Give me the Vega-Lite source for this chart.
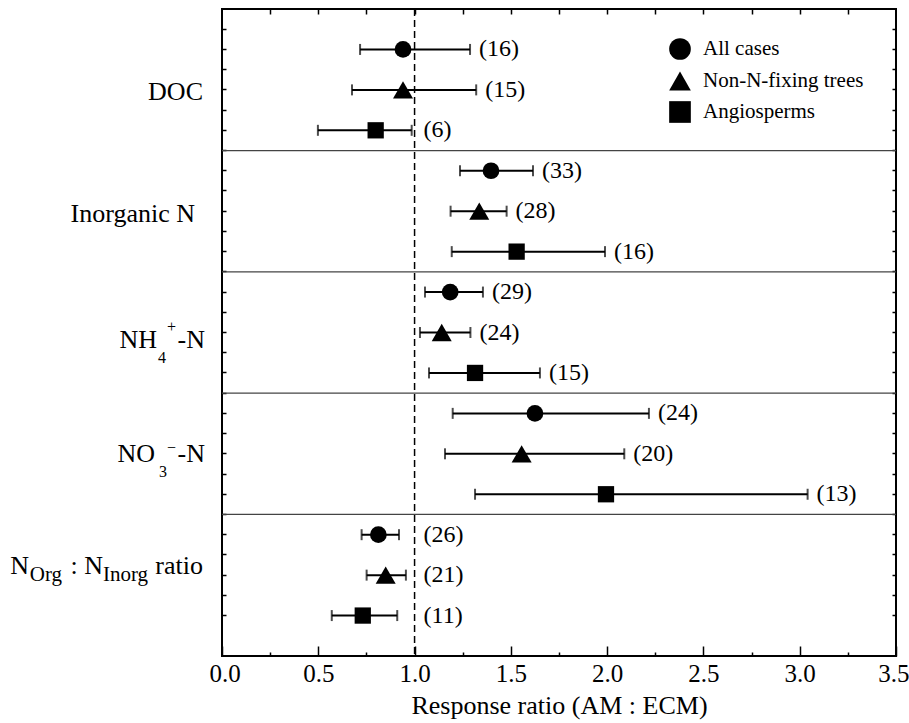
{
  "$schema": "https://vega.github.io/schema/vega-lite/v6.json",
  "width": 674,
  "height": 647,
  "autosize": {"type": "none"},
  "padding": {"left": 222, "top": 9, "right": 13, "bottom": 67},
  "background": "white",
  "config": {
    "view": {"stroke": "black", "strokeWidth": 2},
    "font": "Liberation Serif",
    "text": {"font": "Liberation Serif", "color": "black"}
  },
  "data": {"values": [
    {"group": "DOC", "series": "All cases", "mean": 0.94, "lower": 0.717, "upper": 1.288, "n": 16},
    {"group": "DOC", "series": "Non-N-fixing trees", "mean": 0.94, "lower": 0.675, "upper": 1.32, "n": 15},
    {"group": "DOC", "series": "Angiosperms", "mean": 0.798, "lower": 0.498, "upper": 0.985, "n": 6},
    {"group": "Inorganic N", "series": "All cases", "mean": 1.397, "lower": 1.236, "upper": 1.615, "n": 33},
    {"group": "Inorganic N", "series": "Non-N-fixing trees", "mean": 1.336, "lower": 1.187, "upper": 1.478, "n": 28},
    {"group": "Inorganic N", "series": "Angiosperms", "mean": 1.53, "lower": 1.193, "upper": 1.989, "n": 16},
    {"group": "NH4+-N", "series": "All cases", "mean": 1.185, "lower": 1.054, "upper": 1.355, "n": 29},
    {"group": "NH4+-N", "series": "Non-N-fixing trees", "mean": 1.141, "lower": 1.028, "upper": 1.29, "n": 24},
    {"group": "NH4+-N", "series": "Angiosperms", "mean": 1.314, "lower": 1.075, "upper": 1.651, "n": 15},
    {"group": "NO3--N", "series": "All cases", "mean": 1.625, "lower": 1.198, "upper": 2.217, "n": 24},
    {"group": "NO3--N", "series": "Non-N-fixing trees", "mean": 1.556, "lower": 1.158, "upper": 2.089, "n": 20},
    {"group": "NO3--N", "series": "Angiosperms", "mean": 1.994, "lower": 1.314, "upper": 3.041, "n": 13},
    {"group": "NOrg:NInorg", "series": "All cases", "mean": 0.812, "lower": 0.725, "upper": 0.919, "n": 26},
    {"group": "NOrg:NInorg", "series": "Non-N-fixing trees", "mean": 0.85, "lower": 0.751, "upper": 0.955, "n": 21},
    {"group": "NOrg:NInorg", "series": "Angiosperms", "mean": 0.731, "lower": 0.57, "upper": 0.91, "n": 11}
  ]},
  "transform": [
    {"calculate": "datum.group + '|' + datum.series", "as": "key"},
    {"calculate": "max(datum.upper, 1)", "as": "anchor"},
    {"calculate": "'(' + datum.n + ')'", "as": "label"}
  ],
  "resolve": {"axis": {"x": "independent", "y": "independent"}},
  "layer": [
    {
      "transform": [{"filter": "datum.series == 'All cases' && datum.group != 'DOC'"}],
      "mark": {"type": "rule", "color": "#444", "strokeWidth": 1.2},
      "encoding": {
        "y": {
          "field": "key", "type": "nominal", "bandPosition": 0,
          "scale": {"type": "band", "paddingInner": 0, "paddingOuter": 0.5, "domain": [
            "DOC|All cases", "DOC|Non-N-fixing trees", "DOC|Angiosperms",
            "Inorganic N|All cases", "Inorganic N|Non-N-fixing trees", "Inorganic N|Angiosperms",
            "NH4+-N|All cases", "NH4+-N|Non-N-fixing trees", "NH4+-N|Angiosperms",
            "NO3--N|All cases", "NO3--N|Non-N-fixing trees", "NO3--N|Angiosperms",
            "NOrg:NInorg|All cases", "NOrg:NInorg|Non-N-fixing trees", "NOrg:NInorg|Angiosperms"]},
          "axis": {"orient": "left", "bandPosition": 0, "labels": false, "tickSize": -4, "tickWidth": 1.5, "tickColor": "black", "domain": false, "grid": false, "title": null}
        }
      }
    },
    {
      "data": {"values": [{"ref": 1}]},
      "mark": {"type": "rule", "color": "black", "strokeWidth": 1.5, "strokeDash": [7, 4]},
      "encoding": {
        "x": {"field": "ref", "type": "quantitative", "scale": {"domain": [0, 3.5], "nice": false, "zero": false}, "axis": null}
      }
    },
    {
      "mark": {"type": "rule", "color": "black", "strokeWidth": 2},
      "encoding": {
        "x": {
          "field": "lower", "type": "quantitative",
          "scale": {"domain": [0, 3.5], "nice": false, "zero": false},
          "axis": {"orient": "bottom", "values": [0, 0.5, 1, 1.5, 2, 2.5, 3, 3.5], "format": ".1f", "labelFontSize": 25, "labelColor": "black", "labelFont": "Liberation Serif", "labelFlush": true, "labelFlushOffset": 13, "labelOverlap": false, "tickSize": -10, "tickWidth": 1.5, "tickColor": "black", "labelPadding": 15, "domain": false, "grid": false, "title": "Response ratio (AM : ECM)", "titleFont": "Liberation Serif", "titleFontSize": 26, "titleFontWeight": "normal", "titleColor": "black", "titlePadding": 6}
        },
        "x2": {"field": "upper"},
        "y": {"field": "key", "type": "nominal", "axis": {"orient": "left", "labels": false, "tickSize": -4, "tickWidth": 1.5, "tickColor": "black", "domain": false, "grid": false, "title": null}}
      }
    },
    {
      "mark": {"type": "tick", "orient": "vertical", "color": "black", "size": 11, "thickness": 2},
      "encoding": {
        "x": {"field": "lower", "type": "quantitative", "axis": {"orient": "bottom", "values": [0.25, 0.75, 1.25, 1.75, 2.25, 2.75, 3.25], "labels": false, "tickSize": -4, "tickWidth": 1.5, "tickColor": "black", "domain": false, "grid": false, "title": null}},
        "y": {"field": "key", "type": "nominal", "axis": {"orient": "right", "bandPosition": 0, "labels": false, "tickSize": -4, "tickWidth": 1.5, "tickColor": "black", "domain": false, "grid": false, "title": null}}
      }
    },
    {
      "mark": {"type": "tick", "orient": "vertical", "color": "black", "size": 11, "thickness": 2},
      "encoding": {
        "x": {"field": "upper", "type": "quantitative", "axis": {"orient": "top", "values": [0.25, 0.5, 0.75, 1, 1.25, 1.5, 1.75, 2, 2.25, 2.5, 2.75, 3, 3.25], "labels": false, "tickSize": -5, "tickWidth": 1.5, "tickColor": "black", "domain": false, "grid": false, "title": null}},
        "y": {"field": "key", "type": "nominal", "axis": {"orient": "right", "labels": false, "tickSize": -4, "tickWidth": 1.5, "tickColor": "black", "domain": false, "grid": false, "title": null}}
      }
    },
    {
      "mark": {"type": "point", "filled": true, "color": "black", "opacity": 1, "strokeWidth": 0},
      "encoding": {
        "x": {"field": "mean", "type": "quantitative", "axis": null},
        "y": {"field": "key", "type": "nominal", "axis": null},
        "shape": {
          "field": "series", "type": "nominal",
          "scale": {"domain": ["All cases", "Non-N-fixing trees", "Angiosperms"], "range": ["circle", "triangle-up", "square"]},
          "legend": {
            "title": null, "orient": "none", "legendX": 447, "legendY": 29,
            "labelFont": "Liberation Serif", "labelFontSize": 21, "labelColor": "black", "labelLimit": 400,
            "rowPadding": 10, "labelOffset": 12, "padding": 0, "symbolSize": 470, "symbolStrokeWidth": 0, "symbolFillColor": "black",
            "encode": {"symbols": {"update": {"size": {"signal": "datum.value === 'Non-N-fixing trees' ? 470 : datum.value === 'All cases' ? 225 : 200"}}}}
          }
        },
        "size": {
          "condition": [
            {"test": "datum.series === 'Non-N-fixing trees'", "value": 400},
            {"test": "datum.series === 'Angiosperms'", "value": 265}
          ],
          "value": 280
        }
      }
    },
    {
      "mark": {"type": "text", "align": "left", "baseline": "middle", "dx": 9, "fontSize": 24},
      "encoding": {
        "x": {"field": "anchor", "type": "quantitative", "axis": null},
        "y": {"field": "key", "type": "nominal", "axis": null},
        "text": {"field": "label"}
      }
    },
    {
      "data": {"values": [{"t": "DOC"}]},
      "mark": {"type": "text", "align": "right", "baseline": "alphabetic", "dx": -19, "dy": 10, "fontSize": 26},
      "encoding": {"x": {"datum": 0, "type": "quantitative", "axis": null}, "y": {"datum": "DOC|Non-N-fixing trees", "type": "nominal", "axis": null}, "text": {"field": "t"}}
    },
    {
      "data": {"values": [{"t": "Inorganic N"}]},
      "mark": {"type": "text", "align": "right", "baseline": "alphabetic", "dx": -27, "dy": 11, "fontSize": 26},
      "encoding": {"x": {"datum": 0, "type": "quantitative", "axis": null}, "y": {"datum": "Inorganic N|Non-N-fixing trees", "type": "nominal", "axis": null}, "text": {"field": "t"}}
    },
    {
      "data": {"values": [{"t": "NH"}]},
      "mark": {"type": "text", "align": "right", "baseline": "alphabetic", "dx": -65, "dy": 15, "fontSize": 26},
      "encoding": {"x": {"datum": 0, "type": "quantitative", "axis": null}, "y": {"datum": "NH4+-N|Non-N-fixing trees", "type": "nominal", "axis": null}, "text": {"field": "t"}}
    },
    {
      "data": {"values": [{"t": "4"}]},
      "mark": {"type": "text", "align": "left", "baseline": "alphabetic", "dx": -64, "dy": 30, "fontSize": 16},
      "encoding": {"x": {"datum": 0, "type": "quantitative", "axis": null}, "y": {"datum": "NH4+-N|Non-N-fixing trees", "type": "nominal", "axis": null}, "text": {"field": "t"}}
    },
    {
      "data": {"values": [{"t": "+"}]},
      "mark": {"type": "text", "align": "left", "baseline": "alphabetic", "dx": -55, "dy": -1, "fontSize": 16},
      "encoding": {"x": {"datum": 0, "type": "quantitative", "axis": null}, "y": {"datum": "NH4+-N|Non-N-fixing trees", "type": "nominal", "axis": null}, "text": {"field": "t"}}
    },
    {
      "data": {"values": [{"t": "-N"}]},
      "mark": {"type": "text", "align": "right", "baseline": "alphabetic", "dx": -17, "dy": 15, "fontSize": 26},
      "encoding": {"x": {"datum": 0, "type": "quantitative", "axis": null}, "y": {"datum": "NH4+-N|Non-N-fixing trees", "type": "nominal", "axis": null}, "text": {"field": "t"}}
    },
    {
      "data": {"values": [{"t": "NO"}]},
      "mark": {"type": "text", "align": "right", "baseline": "alphabetic", "dx": -67, "dy": 8, "fontSize": 26},
      "encoding": {"x": {"datum": 0, "type": "quantitative", "axis": null}, "y": {"datum": "NO3--N|Non-N-fixing trees", "type": "nominal", "axis": null}, "text": {"field": "t"}}
    },
    {
      "data": {"values": [{"t": "3"}]},
      "mark": {"type": "text", "align": "left", "baseline": "alphabetic", "dx": -63, "dy": 23, "fontSize": 16},
      "encoding": {"x": {"datum": 0, "type": "quantitative", "axis": null}, "y": {"datum": "NO3--N|Non-N-fixing trees", "type": "nominal", "axis": null}, "text": {"field": "t"}}
    },
    {
      "data": {"values": [{"t": "−"}]},
      "mark": {"type": "text", "align": "left", "baseline": "alphabetic", "dx": -55, "dy": -1, "fontSize": 16},
      "encoding": {"x": {"datum": 0, "type": "quantitative", "axis": null}, "y": {"datum": "NO3--N|Non-N-fixing trees", "type": "nominal", "axis": null}, "text": {"field": "t"}}
    },
    {
      "data": {"values": [{"t": "-N"}]},
      "mark": {"type": "text", "align": "right", "baseline": "alphabetic", "dx": -17, "dy": 8, "fontSize": 26},
      "encoding": {"x": {"datum": 0, "type": "quantitative", "axis": null}, "y": {"datum": "NO3--N|Non-N-fixing trees", "type": "nominal", "axis": null}, "text": {"field": "t"}}
    },
    {
      "data": {"values": [{"t": "N"}]},
      "mark": {"type": "text", "align": "right", "baseline": "alphabetic", "dx": -193, "dy": -1, "fontSize": 26},
      "encoding": {"x": {"datum": 0, "type": "quantitative", "axis": null}, "y": {"datum": "NOrg:NInorg|Non-N-fixing trees", "type": "nominal", "axis": null}, "text": {"field": "t"}}
    },
    {
      "data": {"values": [{"t": "Org"}]},
      "mark": {"type": "text", "align": "right", "baseline": "alphabetic", "dx": -160, "dy": 6, "fontSize": 21},
      "encoding": {"x": {"datum": 0, "type": "quantitative", "axis": null}, "y": {"datum": "NOrg:NInorg|Non-N-fixing trees", "type": "nominal", "axis": null}, "text": {"field": "t"}}
    },
    {
      "data": {"values": [{"t": ": N"}]},
      "mark": {"type": "text", "align": "right", "baseline": "alphabetic", "dx": -119, "dy": -1, "fontSize": 26},
      "encoding": {"x": {"datum": 0, "type": "quantitative", "axis": null}, "y": {"datum": "NOrg:NInorg|Non-N-fixing trees", "type": "nominal", "axis": null}, "text": {"field": "t"}}
    },
    {
      "data": {"values": [{"t": "Inorg"}]},
      "mark": {"type": "text", "align": "right", "baseline": "alphabetic", "dx": -74, "dy": 6, "fontSize": 21},
      "encoding": {"x": {"datum": 0, "type": "quantitative", "axis": null}, "y": {"datum": "NOrg:NInorg|Non-N-fixing trees", "type": "nominal", "axis": null}, "text": {"field": "t"}}
    },
    {
      "data": {"values": [{"t": "ratio"}]},
      "mark": {"type": "text", "align": "right", "baseline": "alphabetic", "dx": -19, "dy": -1, "fontSize": 26},
      "encoding": {"x": {"datum": 0, "type": "quantitative", "axis": null}, "y": {"datum": "NOrg:NInorg|Non-N-fixing trees", "type": "nominal", "axis": null}, "text": {"field": "t"}}
    }
  ]
}
